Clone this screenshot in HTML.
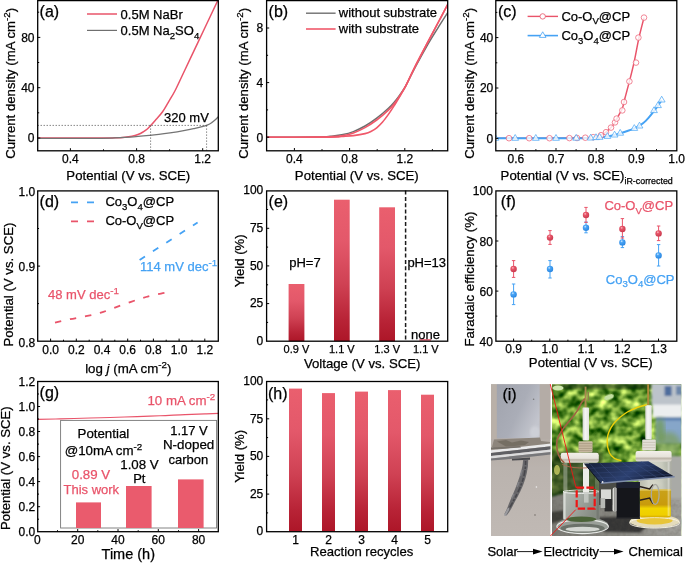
<!DOCTYPE html>
<html><head><meta charset="utf-8"><title>Figure</title>
<style>html,body{margin:0;padding:0;background:#fff}svg{display:block;will-change:transform}text{font-family:"Liberation Sans",sans-serif}</style></head>
<body>
<svg width="685" height="563" viewBox="0 0 685 563" font-family="'Liberation Sans', sans-serif">
<defs>
<linearGradient id="bar" x1="0" y1="0" x2="0" y2="1"><stop offset="0" stop-color="#ea5f6e"/><stop offset="0.3" stop-color="#e3586a"/><stop offset="0.6" stop-color="#cf4153"/><stop offset="0.85" stop-color="#b82336"/><stop offset="1" stop-color="#ad1628"/></linearGradient>
<radialGradient id="sr" cx="0.38" cy="0.32" r="0.7"><stop offset="0" stop-color="#fbc4cb"/><stop offset="0.3" stop-color="#e8566a"/><stop offset="1" stop-color="#c8394d"/></radialGradient>
<radialGradient id="sb" cx="0.38" cy="0.32" r="0.7"><stop offset="0" stop-color="#d2eaff"/><stop offset="0.3" stop-color="#4aa5f6"/><stop offset="1" stop-color="#2a86e0"/></radialGradient>
<clipPath id="ca"><rect x="37.5" y="0" width="181" height="151"/></clipPath>
<clipPath id="cc"><rect x="495.8" y="0" width="181" height="151"/></clipPath>
<clipPath id="cb"><rect x="266.6" y="0" width="181.4" height="151"/></clipPath>
</defs>
<rect width="685" height="563" fill="#fff"/>
<g clip-path="url(#ca)">
<path d="M37.5 138.0 C47.9 138.0 87.1 138.0 100.0 138.0 C112.9 138.0 110.8 137.9 115.0 137.8 C119.2 137.7 122.2 137.5 125.0 137.2 C127.8 136.9 129.8 136.6 132.0 136.2 C134.2 135.8 136.2 135.2 138.0 134.5 C139.8 133.8 141.5 132.9 143.0 132.0 C144.5 131.1 145.7 130.4 147.0 129.3 C148.3 128.2 149.1 127.2 150.6 125.6 C152.1 124.0 154.0 121.8 156.0 119.5 C158.0 117.2 160.4 114.8 162.4 112.0 C164.4 109.2 165.8 106.5 168.0 102.8 C170.2 99.1 172.6 95.5 175.4 90.0 C178.2 84.5 181.7 76.6 185.0 69.7 C188.3 62.8 191.7 55.6 195.0 48.6 C198.3 41.6 201.1 35.8 205.0 27.5 C208.9 19.2 216.2 3.8 218.5 -1.0" fill="none" stroke="#e9546a" stroke-width="1.5"/>
<path d="M37.5 138.3 C46.2 138.3 77.9 138.3 90.0 138.3 C102.1 138.3 103.3 138.3 110.0 138.1 C116.7 137.9 123.3 137.6 130.0 137.2 C136.7 136.8 143.3 136.1 150.0 135.4 C156.7 134.7 164.2 133.7 170.0 132.9 C175.8 132.1 180.8 131.2 185.0 130.4 C189.2 129.7 192.2 129.0 195.0 128.4 C197.8 127.8 200.1 127.2 202.0 126.7 C203.9 126.2 204.9 126.0 206.6 125.3 C208.3 124.6 210.0 123.9 212.0 122.4 C214.0 121.0 217.4 117.6 218.5 116.6" fill="none" stroke="#747474" stroke-width="1.3"/>
</g>
<path d="M37.5 125.4H207M150.6 125.4V150.6M206.6 125.4V150.6" stroke="#555" stroke-width="0.7" stroke-dasharray="1.5 1.5" fill="none"/>
<rect x="37.7" y="0.6" width="180.6" height="150.2" fill="none" stroke="#000" stroke-width="1.3"/>
<path d="M70.4 150.8v-2.6M136.6 150.8v-2.6M202.7 150.8v-2.6" stroke="#000" stroke-width="1" fill="none"/>
<path d="M103.5 150.8v-1.5M169.6 150.8v-1.5" stroke="#000" stroke-width="1" fill="none"/>
<path d="M37.7 138.0h2.6M37.7 87.7h2.6M37.7 37.4h2.6" stroke="#000" stroke-width="1" fill="none"/>
<path d="M37.7 112.8h1.5M37.7 62.5h1.5M37.7 12.2h1.5" stroke="#000" stroke-width="1" fill="none"/>
<text x="70.4" y="163.1" font-size="12" text-anchor="middle" fill="#000" stroke="#000" stroke-width="0.25" >0.4</text>
<text x="136.6" y="163.1" font-size="12" text-anchor="middle" fill="#000" stroke="#000" stroke-width="0.25" >0.8</text>
<text x="202.7" y="163.1" font-size="12" text-anchor="middle" fill="#000" stroke="#000" stroke-width="0.25" >1.2</text>
<text x="34.5" y="142.3" font-size="12" text-anchor="end" fill="#000" stroke="#000" stroke-width="0.25" >0</text>
<text x="34.5" y="92.0" font-size="12" text-anchor="end" fill="#000" stroke="#000" stroke-width="0.25" >40</text>
<text x="34.5" y="41.7" font-size="12" text-anchor="end" fill="#000" stroke="#000" stroke-width="0.25" >80</text>
<text x="128.3" y="180.4" font-size="13.2" text-anchor="middle" fill="#000" stroke="#000" stroke-width="0.25" >Potential (V vs. SCE)</text>
<text transform="translate(14.5 83.3) rotate(-90)" font-size="13.2" text-anchor="middle" fill="#000" stroke="#000" stroke-width="0.25">Current density (mA cm<tspan dy="-5" font-size="9.8">-2</tspan><tspan dy="5">)</tspan></text>
<text x="39.6" y="16.6" font-size="16" text-anchor="start" fill="#000" stroke="#000" stroke-width="0.25" >(a)</text>
<path d="M87 14H117" stroke="#e9546a" stroke-width="1.5"/><path d="M87 30.4H117" stroke="#6f6f6f" stroke-width="1.2"/>
<text x="120.6" y="19.0" font-size="13" text-anchor="start" fill="#000" stroke="#000" stroke-width="0.25" >0.5M NaBr</text>
<text x="120.6" y="35.0" font-size="13" text-anchor="start" fill="#000" stroke="#000" stroke-width="0.25" >0.5M Na<tspan dy="3.8" font-size="9.6">2</tspan><tspan dy="-3.8">SO</tspan><tspan dy="3.8" font-size="9.6">4</tspan></text>
<text x="164.0" y="122.4" font-size="13" text-anchor="start" fill="#000" stroke="#000" stroke-width="0.25" >320 mV</text>
<g clip-path="url(#cb)">
<path d="M266.6 137.2 C275.5 137.2 309.4 137.2 320.0 137.0 C330.6 136.8 326.4 136.6 330.0 136.2 C333.6 135.8 337.8 135.6 341.7 134.8 C345.6 134.0 349.5 133.1 353.4 131.6 C357.3 130.1 361.1 128.2 365.0 126.0 C368.9 123.8 372.8 121.2 376.7 118.2 C380.6 115.2 385.5 110.9 388.4 108.2 C391.3 105.5 392.3 104.5 394.2 102.2 C396.1 99.9 398.1 97.4 400.0 94.6 C401.9 91.8 403.5 90.0 405.9 85.6 C408.3 81.2 411.1 75.0 414.6 68.4 C418.1 61.8 422.9 53.0 427.0 45.8 C431.1 38.6 435.9 31.1 439.5 25.4 C443.1 19.7 446.9 13.9 448.4 11.6" fill="none" stroke="#6f6f6f" stroke-width="1.5"/>
<path d="M266.6 137.2 C275.5 137.2 309.4 137.2 320.0 137.1 C330.6 137.0 326.4 136.9 330.0 136.7 C333.6 136.5 337.8 136.4 341.7 135.8 C345.6 135.2 349.5 134.3 353.4 132.9 C357.3 131.5 361.1 129.8 365.0 127.6 C368.9 125.4 372.8 122.9 376.7 120.0 C380.6 117.1 385.5 112.8 388.4 110.1 C391.3 107.4 392.3 106.1 394.2 103.7 C396.1 101.3 398.1 98.5 400.0 95.5 C401.9 92.5 403.5 90.2 405.9 85.6 C408.3 80.9 411.1 74.6 414.6 67.6 C418.1 60.6 422.9 51.6 427.0 43.7 C431.1 35.8 435.9 26.8 439.5 20.0 C443.1 13.2 446.9 5.8 448.4 3.0" fill="none" stroke="#f0586a" stroke-width="1.6"/>
<path d="M266.6 137.2 C277.2 137.2 317.5 137.2 330.0 137.1 C342.5 137.0 337.8 136.8 341.7 136.5 C345.6 136.2 349.5 136.1 353.4 135.6 C357.3 135.1 362.1 134.3 365.0 133.6 C367.9 132.9 368.9 132.5 370.9 131.5 C372.8 130.5 374.8 129.4 376.7 127.8 C378.6 126.2 380.7 124.2 382.6 122.0 C384.6 119.8 386.5 117.1 388.4 114.4 C390.3 111.7 392.3 108.6 394.2 105.6 C396.1 102.5 398.1 99.4 400.0 96.1 C401.9 92.8 403.5 90.3 405.9 85.6 C408.3 80.8 411.1 74.6 414.6 67.6 C418.1 60.6 422.9 51.6 427.0 43.7 C431.1 35.8 435.9 26.8 439.5 20.0 C443.1 13.2 446.9 5.8 448.4 3.0" fill="none" stroke="#f0586a" stroke-width="1.6"/>
</g>
<rect x="266.6" y="0.6" width="181.1" height="150.2" fill="none" stroke="#000" stroke-width="1.3"/>
<path d="M294.4 150.6v-2.6M349.6 150.6v-2.6M404.8 150.6v-2.6" stroke="#000" stroke-width="1" fill="none"/>
<path d="M322.0 150.6v-1.5M377.2 150.6v-1.5M432.4 150.6v-1.5" stroke="#000" stroke-width="1" fill="none"/>
<path d="M266.6 137.2h2.6M266.6 82.6h2.6M266.6 28.0h2.6" stroke="#000" stroke-width="1" fill="none"/>
<path d="M266.6 109.9h1.5M266.6 55.3h1.5" stroke="#000" stroke-width="1" fill="none"/>
<text x="294.4" y="163.1" font-size="12" text-anchor="middle" fill="#000" stroke="#000" stroke-width="0.25" >0.4</text>
<text x="349.6" y="163.1" font-size="12" text-anchor="middle" fill="#000" stroke="#000" stroke-width="0.25" >0.8</text>
<text x="404.8" y="163.1" font-size="12" text-anchor="middle" fill="#000" stroke="#000" stroke-width="0.25" >1.2</text>
<text x="263.3" y="141.5" font-size="12" text-anchor="end" fill="#000" stroke="#000" stroke-width="0.25" >0</text>
<text x="263.3" y="86.9" font-size="12" text-anchor="end" fill="#000" stroke="#000" stroke-width="0.25" >4</text>
<text x="263.3" y="32.3" font-size="12" text-anchor="end" fill="#000" stroke="#000" stroke-width="0.25" >8</text>
<text x="356.8" y="180.4" font-size="13.2" text-anchor="middle" fill="#000" stroke="#000" stroke-width="0.25" >Potential (V vs. SCE)</text>
<text transform="translate(248.4 83.3) rotate(-90)" font-size="13.2" text-anchor="middle" fill="#000" stroke="#000" stroke-width="0.25">Current density (mA cm<tspan dy="-5" font-size="9.8">-2</tspan><tspan dy="5">)</tspan></text>
<text x="268.6" y="16.6" font-size="16" text-anchor="start" fill="#000" stroke="#000" stroke-width="0.25" >(b)</text>
<path d="M306 13.2H335.6" stroke="#6f6f6f" stroke-width="1.4"/><path d="M306 29H335.6" stroke="#f0586a" stroke-width="1.6"/>
<text x="338.8" y="17.4" font-size="13" text-anchor="start" fill="#000" stroke="#000" stroke-width="0.25" >without substrate</text>
<text x="338.8" y="33.2" font-size="13" text-anchor="start" fill="#000" stroke="#000" stroke-width="0.25" >with substrate</text>
<g clip-path="url(#cc)">
<path d="M496.0 138.2 C508.3 138.2 555.2 138.2 570.0 138.1 C584.8 138.0 581.2 137.8 585.0 137.7 C588.8 137.5 590.8 137.4 593.0 137.2 C595.2 136.9 596.7 136.5 598.0 136.2 C599.3 135.9 599.7 135.9 601.0 135.2 C602.3 134.5 604.3 133.5 606.0 132.2 C607.7 130.9 609.5 129.2 611.0 127.6 C612.5 126.0 613.8 124.2 615.0 122.4 C616.2 120.6 616.8 118.9 618.0 116.6 C619.2 114.3 621.1 111.5 622.3 108.4 C623.5 105.3 623.8 102.5 625.0 98.0 C626.2 93.5 627.9 87.3 629.4 81.4 C630.9 75.5 632.4 69.9 634.0 62.6 C635.6 55.3 637.3 45.1 639.0 37.6 C640.7 30.1 643.2 20.9 644.0 17.6" fill="none" stroke="#e9546a" stroke-width="1.5"/>
<path d="M496.0 138.3 C506.7 138.3 544.3 138.4 560.0 138.3 C575.7 138.2 583.3 138.2 590.0 138.0 C596.7 137.8 596.7 137.6 600.0 137.3 C603.3 137.0 606.7 136.7 610.0 136.0 C613.3 135.3 617.0 134.3 620.0 133.4 C623.0 132.5 625.6 131.6 628.0 130.8 C630.4 130.0 632.3 129.3 634.3 128.4 C636.3 127.5 638.0 126.7 640.0 125.4 C642.0 124.1 644.0 122.6 646.0 120.6 C648.0 118.6 650.0 116.1 652.0 113.6 C654.0 111.1 656.4 107.9 658.0 105.6 C659.6 103.3 661.1 100.9 661.7 100.0" fill="none" stroke="#45a2f4" stroke-width="2"/>
<circle cx="509.0" cy="138.2" r="2.8" fill="#fff" fill-opacity="0.8" stroke="#ec6075" stroke-width="0.75"/>
<circle cx="529.2" cy="138.2" r="2.8" fill="#fff" fill-opacity="0.8" stroke="#ec6075" stroke-width="0.75"/>
<circle cx="549.5" cy="138.2" r="2.8" fill="#fff" fill-opacity="0.8" stroke="#ec6075" stroke-width="0.75"/>
<circle cx="569.4" cy="138.1" r="2.8" fill="#fff" fill-opacity="0.8" stroke="#ec6075" stroke-width="0.75"/>
<circle cx="577.0" cy="138.0" r="2.8" fill="#fff" fill-opacity="0.8" stroke="#ec6075" stroke-width="0.75"/>
<circle cx="585.3" cy="137.7" r="2.8" fill="#fff" fill-opacity="0.8" stroke="#ec6075" stroke-width="0.75"/>
<circle cx="593.2" cy="137.2" r="2.8" fill="#fff" fill-opacity="0.8" stroke="#ec6075" stroke-width="0.75"/>
<circle cx="601.0" cy="135.2" r="2.8" fill="#fff" fill-opacity="0.8" stroke="#ec6075" stroke-width="0.75"/>
<circle cx="606.0" cy="132.2" r="2.8" fill="#fff" fill-opacity="0.8" stroke="#ec6075" stroke-width="0.75"/>
<circle cx="611.0" cy="127.6" r="2.8" fill="#fff" fill-opacity="0.8" stroke="#ec6075" stroke-width="0.75"/>
<circle cx="615.0" cy="122.4" r="2.8" fill="#fff" fill-opacity="0.8" stroke="#ec6075" stroke-width="0.75"/>
<circle cx="616.6" cy="118.6" r="2.8" fill="#fff" fill-opacity="0.8" stroke="#ec6075" stroke-width="0.75"/>
<circle cx="622.3" cy="110.4" r="2.8" fill="#fff" fill-opacity="0.8" stroke="#ec6075" stroke-width="0.75"/>
<circle cx="624.0" cy="102.0" r="2.8" fill="#fff" fill-opacity="0.8" stroke="#ec6075" stroke-width="0.75"/>
<circle cx="629.4" cy="81.4" r="2.8" fill="#fff" fill-opacity="0.8" stroke="#ec6075" stroke-width="0.75"/>
<circle cx="636.0" cy="62.6" r="2.8" fill="#fff" fill-opacity="0.8" stroke="#ec6075" stroke-width="0.75"/>
<circle cx="638.4" cy="37.6" r="2.8" fill="#fff" fill-opacity="0.8" stroke="#ec6075" stroke-width="0.75"/>
<circle cx="644.0" cy="17.6" r="2.8" fill="#fff" fill-opacity="0.8" stroke="#ec6075" stroke-width="0.75"/>
<path d="M495.4 134.5l3.4 5.8h-6.8z" fill="#fff" fill-opacity="0.8" stroke="#4fa8f6" stroke-width="0.75"/>
<path d="M515.2 134.5l3.4 5.8h-6.8z" fill="#fff" fill-opacity="0.8" stroke="#4fa8f6" stroke-width="0.75"/>
<path d="M535.8 134.5l3.4 5.8h-6.8z" fill="#fff" fill-opacity="0.8" stroke="#4fa8f6" stroke-width="0.75"/>
<path d="M556.0 134.5l3.4 5.8h-6.8z" fill="#fff" fill-opacity="0.8" stroke="#4fa8f6" stroke-width="0.75"/>
<path d="M576.2 134.4l3.4 5.8h-6.8z" fill="#fff" fill-opacity="0.8" stroke="#4fa8f6" stroke-width="0.75"/>
<path d="M590.7 134.2l3.4 5.8h-6.8z" fill="#fff" fill-opacity="0.8" stroke="#4fa8f6" stroke-width="0.75"/>
<path d="M596.0 133.8l3.4 5.8h-6.8z" fill="#fff" fill-opacity="0.8" stroke="#4fa8f6" stroke-width="0.75"/>
<path d="M599.6 133.5l3.4 5.8h-6.8z" fill="#fff" fill-opacity="0.8" stroke="#4fa8f6" stroke-width="0.75"/>
<path d="M607.4 132.6l3.4 5.8h-6.8z" fill="#fff" fill-opacity="0.8" stroke="#4fa8f6" stroke-width="0.75"/>
<path d="M614.6 131.2l3.4 5.8h-6.8z" fill="#fff" fill-opacity="0.8" stroke="#4fa8f6" stroke-width="0.75"/>
<path d="M620.2 129.4l3.4 5.8h-6.8z" fill="#fff" fill-opacity="0.8" stroke="#4fa8f6" stroke-width="0.75"/>
<path d="M634.3 124.6l3.4 5.8h-6.8z" fill="#fff" fill-opacity="0.8" stroke="#4fa8f6" stroke-width="0.75"/>
<path d="M639.5 122.2l3.4 5.8h-6.8z" fill="#fff" fill-opacity="0.8" stroke="#4fa8f6" stroke-width="0.75"/>
<path d="M654.0 106.8l3.4 5.8h-6.8z" fill="#fff" fill-opacity="0.8" stroke="#4fa8f6" stroke-width="0.75"/>
<path d="M658.0 101.8l3.4 5.8h-6.8z" fill="#fff" fill-opacity="0.8" stroke="#4fa8f6" stroke-width="0.75"/>
<path d="M661.7 96.2l3.4 5.8h-6.8z" fill="#fff" fill-opacity="0.8" stroke="#4fa8f6" stroke-width="0.75"/>
</g>
<rect x="495.8" y="0.6" width="181.0" height="150.2" fill="none" stroke="#000" stroke-width="1.3"/>
<path d="M515.8 150.6v-2.6M556.0 150.6v-2.6M596.2 150.6v-2.6M636.4 150.6v-2.6" stroke="#000" stroke-width="1" fill="none"/>
<path d="M535.9 150.6v-1.5M576.1 150.6v-1.5M616.3 150.6v-1.5M656.5 150.6v-1.5" stroke="#000" stroke-width="1" fill="none"/>
<path d="M495.8 138.4h2.6M495.8 88.0h2.6M495.8 37.6h2.6" stroke="#000" stroke-width="1" fill="none"/>
<path d="M495.8 113.2h1.5M495.8 62.8h1.5M495.8 12.4h1.5" stroke="#000" stroke-width="1" fill="none"/>
<text x="515.8" y="163.1" font-size="12" text-anchor="middle" fill="#000" stroke="#000" stroke-width="0.25" >0.6</text>
<text x="556.0" y="163.1" font-size="12" text-anchor="middle" fill="#000" stroke="#000" stroke-width="0.25" >0.7</text>
<text x="596.2" y="163.1" font-size="12" text-anchor="middle" fill="#000" stroke="#000" stroke-width="0.25" >0.8</text>
<text x="636.4" y="163.1" font-size="12" text-anchor="middle" fill="#000" stroke="#000" stroke-width="0.25" >0.9</text>
<text x="676.6" y="163.1" font-size="12" text-anchor="middle" fill="#000" stroke="#000" stroke-width="0.25" >1.0</text>
<text x="493.3" y="142.7" font-size="12" text-anchor="end" fill="#000" stroke="#000" stroke-width="0.25" >0</text>
<text x="493.3" y="92.3" font-size="12" text-anchor="end" fill="#000" stroke="#000" stroke-width="0.25" >20</text>
<text x="493.3" y="41.9" font-size="12" text-anchor="end" fill="#000" stroke="#000" stroke-width="0.25" >40</text>
<text x="500.6" y="180.4" font-size="13.2" text-anchor="start" fill="#000" stroke="#000" stroke-width="0.25" >Potential (V vs. SCE)<tspan dy="3.4" font-size="8.9">iR-corrected</tspan></text>
<text transform="translate(473.8 83.3) rotate(-90)" font-size="13.2" text-anchor="middle" fill="#000" stroke="#000" stroke-width="0.25">Current density (mA cm<tspan dy="-5" font-size="9.8">-2</tspan><tspan dy="5">)</tspan></text>
<text x="498.0" y="16.6" font-size="16" text-anchor="start" fill="#000" stroke="#000" stroke-width="0.25" >(c)</text>
<path d="M527.6 16.4H558" stroke="#e9546a" stroke-width="1.4"/><circle cx="542.7" cy="16.4" r="2.7" fill="#fff" stroke="#e9546a" stroke-width="0.8"/>
<path d="M527.6 35.6H558" stroke="#45a2f4" stroke-width="1.6"/><path d="M542.7 31.8l3.3 5.6h-6.6z" fill="#fff" stroke="#45a2f4" stroke-width="0.8"/>
<text x="561.4" y="20.6" font-size="13" text-anchor="start" fill="#000" stroke="#000" stroke-width="0.25" >Co-O<tspan dy="3.8" font-size="9.6">V</tspan><tspan dy="-3.8">@CP</tspan></text>
<text x="561.4" y="40.0" font-size="13" text-anchor="start" fill="#000" stroke="#000" stroke-width="0.25" >Co<tspan dy="3.8" font-size="9.6">3</tspan><tspan dy="-3.8">O</tspan><tspan dy="3.8" font-size="9.6">4</tspan><tspan dy="-3.8">@CP</tspan></text>
<rect x="37.7" y="190.9" width="180.6" height="150.3" fill="none" stroke="#000" stroke-width="1.3"/>
<path d="M50.6 341.2v-2.6M76.3 341.2v-2.6M102.0 341.2v-2.6M127.7 341.2v-2.6M153.4 341.2v-2.6M179.1 341.2v-2.6M204.8 341.2v-2.6" stroke="#000" stroke-width="1" fill="none"/>
<path d="M63.5 341.2v-1.5M89.2 341.2v-1.5M114.8 341.2v-1.5M140.5 341.2v-1.5M166.2 341.2v-1.5M192.0 341.2v-1.5" stroke="#000" stroke-width="1" fill="none"/>
<path d="M37.5 266.1h2.6" stroke="#000" stroke-width="1" fill="none"/>
<path d="M37.5 303.6h1.5M37.5 228.5h1.5" stroke="#000" stroke-width="1" fill="none"/>
<text x="50.6" y="353.6" font-size="12" text-anchor="middle" fill="#000" stroke="#000" stroke-width="0.25" >0.0</text>
<text x="76.3" y="353.6" font-size="12" text-anchor="middle" fill="#000" stroke="#000" stroke-width="0.25" >0.2</text>
<text x="102.0" y="353.6" font-size="12" text-anchor="middle" fill="#000" stroke="#000" stroke-width="0.25" >0.4</text>
<text x="127.7" y="353.6" font-size="12" text-anchor="middle" fill="#000" stroke="#000" stroke-width="0.25" >0.6</text>
<text x="153.4" y="353.6" font-size="12" text-anchor="middle" fill="#000" stroke="#000" stroke-width="0.25" >0.8</text>
<text x="179.1" y="353.6" font-size="12" text-anchor="middle" fill="#000" stroke="#000" stroke-width="0.25" >1.0</text>
<text x="204.8" y="353.6" font-size="12" text-anchor="middle" fill="#000" stroke="#000" stroke-width="0.25" >1.2</text>
<text x="35.2" y="346.5" font-size="12" text-anchor="end" fill="#000" stroke="#000" stroke-width="0.25" >0.8</text>
<text x="35.2" y="271.4" font-size="12" text-anchor="end" fill="#000" stroke="#000" stroke-width="0.25" >0.9</text>
<text x="35.2" y="196.2" font-size="12" text-anchor="end" fill="#000" stroke="#000" stroke-width="0.25" >1.0</text>
<text x="128.3" y="373.0" font-size="13.3" text-anchor="middle" fill="#000" stroke="#000" stroke-width="0.25" >log <tspan font-style="italic">j</tspan> (mA cm<tspan dy="-5" font-size="9.8">-2</tspan><tspan dy="5">)</tspan></text>
<text transform="translate(12.9 284.6) rotate(-90)" font-size="13.2" text-anchor="middle" fill="#000" stroke="#000" stroke-width="0.25">Potential (V vs. SCE)</text>
<text x="39.6" y="206.6" font-size="16" text-anchor="start" fill="#000" stroke="#000" stroke-width="0.25" >(d)</text>
<path d="M71 202.4H94" stroke="#45a2f4" stroke-width="1.7" stroke-dasharray="7 9"/>
<path d="M71 221.4H94" stroke="#e9546a" stroke-width="1.7" stroke-dasharray="7 9"/>
<text x="105.4" y="206.0" font-size="13" text-anchor="start" fill="#000" stroke="#000" stroke-width="0.25" >Co<tspan dy="3.8" font-size="9.6">3</tspan><tspan dy="-3.8">O</tspan><tspan dy="3.8" font-size="9.6">4</tspan><tspan dy="-3.8">@CP</tspan></text>
<text x="105.4" y="225.0" font-size="13" text-anchor="start" fill="#000" stroke="#000" stroke-width="0.25" >Co-O<tspan dy="3.8" font-size="9.6">V</tspan><tspan dy="-3.8">@CP</tspan></text>
<path d="M139.6 260L197.6 222.4" stroke="#45a2f4" stroke-width="1.8" stroke-dasharray="6.4 9.5" fill="none"/>
<path d="M55.0 322.6 C57.5 322.0 64.8 320.3 70.0 319.2 C75.2 318.1 80.8 317.3 86.0 316.2 C91.2 315.1 96.2 314.0 101.0 312.6 C105.8 311.2 110.0 309.4 115.0 307.6 C120.0 305.8 125.8 303.6 131.0 301.8 C136.2 300.0 141.0 298.4 146.0 297.0 C151.0 295.6 157.6 294.3 161.0 293.6 C164.4 292.9 165.7 292.8 166.6 292.6" stroke="#e9546a" stroke-width="1.8" stroke-dasharray="6.4 8.9" fill="none"/>
<text x="140.0" y="271.0" font-size="13" text-anchor="start" fill="#45a2f4" stroke="#45a2f4" stroke-width="0.25" >114 mV dec<tspan dy="-5" font-size="9.8">-1</tspan></text>
<text x="48.0" y="299.4" font-size="13" text-anchor="start" fill="#e9546a" stroke="#e9546a" stroke-width="0.25" >48 mV dec<tspan dy="-5" font-size="9.8">-1</tspan></text>
<rect x="288.6" y="284.0" width="15.8" height="57.2" fill="url(#bar)"/>
<rect x="334.0" y="199.7" width="15.7" height="141.5" fill="url(#bar)"/>
<rect x="379.2" y="207.3" width="15.8" height="133.9" fill="url(#bar)"/>
<rect x="419.4" y="339.2" width="11.6" height="1.5" fill="#e9546a"/>
<path d="M405.6 190.6V341.2" stroke="#1a1a1a" stroke-width="1.5" stroke-dasharray="4 2.3"/>
<rect x="266.6" y="190.9" width="181.1" height="150.3" fill="none" stroke="#000" stroke-width="1.3"/>
<path d="M266.6 303.6h2.6M266.6 265.9h2.6M266.6 228.3h2.6" stroke="#000" stroke-width="1" fill="none"/>
<path d="M266.6 322.4h1.5M266.6 284.8h1.5M266.6 247.1h1.5M266.6 209.5h1.5" stroke="#000" stroke-width="1" fill="none"/>
<text x="263.3" y="344.9" font-size="12" text-anchor="end" fill="#000" stroke="#000" stroke-width="0.25" >0</text>
<text x="263.3" y="307.3" font-size="12" text-anchor="end" fill="#000" stroke="#000" stroke-width="0.25" >25</text>
<text x="263.3" y="269.6" font-size="12" text-anchor="end" fill="#000" stroke="#000" stroke-width="0.25" >50</text>
<text x="263.3" y="232.0" font-size="12" text-anchor="end" fill="#000" stroke="#000" stroke-width="0.25" >75</text>
<text x="263.3" y="194.4" font-size="12" text-anchor="end" fill="#000" stroke="#000" stroke-width="0.25" >100</text>
<text x="296.4" y="352.6" font-size="11" text-anchor="middle" fill="#000" stroke="#000" stroke-width="0.25" >0.9 V</text>
<text x="341.8" y="352.6" font-size="11" text-anchor="middle" fill="#000" stroke="#000" stroke-width="0.25" >1.1 V</text>
<text x="387.2" y="352.6" font-size="11" text-anchor="middle" fill="#000" stroke="#000" stroke-width="0.25" >1.3 V</text>
<text x="425.8" y="352.6" font-size="11" text-anchor="middle" fill="#000" stroke="#000" stroke-width="0.25" >1.1 V</text>
<text x="362.2" y="368.0" font-size="13.2" text-anchor="middle" fill="#000" stroke="#000" stroke-width="0.25" >Voltage (V vs. SCE)</text>
<text transform="translate(243.8 260.8) rotate(-90)" font-size="13.2" text-anchor="middle" fill="#000" stroke="#000" stroke-width="0.25">Yield (%)</text>
<text x="268.6" y="206.6" font-size="16" text-anchor="start" fill="#000" stroke="#000" stroke-width="0.25" >(e)</text>
<text x="289.2" y="267.4" font-size="13" text-anchor="start" fill="#000" stroke="#000" stroke-width="0.25" >pH=7</text>
<text x="407.4" y="267.4" font-size="13" text-anchor="start" fill="#000" stroke="#000" stroke-width="0.25" >pH=13</text>
<text x="411.0" y="338.6" font-size="13" text-anchor="start" fill="#000" stroke="#000" stroke-width="0.25" >none</text>
<rect x="495.9" y="190.9" width="180.9" height="150.3" fill="none" stroke="#000" stroke-width="1.3"/>
<path d="M513.6 341.2v-2.6M549.8 341.2v-2.6M586.0 341.2v-2.6M622.3 341.2v-2.6M658.5 341.2v-2.6" stroke="#000" stroke-width="1" fill="none"/>
<path d="M531.7 341.2v-1.5M567.9 341.2v-1.5M604.1 341.2v-1.5M640.4 341.2v-1.5" stroke="#000" stroke-width="1" fill="none"/>
<path d="M495.8 291.1h2.6M495.8 241.0h2.6" stroke="#000" stroke-width="1" fill="none"/>
<path d="M495.8 316.1h1.5M495.8 266.1h1.5M495.8 215.9h1.5" stroke="#000" stroke-width="1" fill="none"/>
<text x="513.6" y="353.0" font-size="12" text-anchor="middle" fill="#000" stroke="#000" stroke-width="0.25" >0.9</text>
<text x="549.8" y="353.0" font-size="12" text-anchor="middle" fill="#000" stroke="#000" stroke-width="0.25" >1.0</text>
<text x="586.0" y="353.0" font-size="12" text-anchor="middle" fill="#000" stroke="#000" stroke-width="0.25" >1.1</text>
<text x="622.3" y="353.0" font-size="12" text-anchor="middle" fill="#000" stroke="#000" stroke-width="0.25" >1.2</text>
<text x="658.5" y="353.0" font-size="12" text-anchor="middle" fill="#000" stroke="#000" stroke-width="0.25" >1.3</text>
<text x="492.9" y="345.7" font-size="12" text-anchor="end" fill="#000" stroke="#000" stroke-width="0.25" >40</text>
<text x="492.9" y="295.6" font-size="12" text-anchor="end" fill="#000" stroke="#000" stroke-width="0.25" >60</text>
<text x="492.9" y="245.5" font-size="12" text-anchor="end" fill="#000" stroke="#000" stroke-width="0.25" >80</text>
<text x="492.9" y="195.4" font-size="12" text-anchor="end" fill="#000" stroke="#000" stroke-width="0.25" >100</text>
<text x="590.8" y="367.4" font-size="13.2" text-anchor="middle" fill="#000" stroke="#000" stroke-width="0.25" >Potential (V vs. SCE)</text>
<text transform="translate(474.3 346.6) rotate(-90)" font-size="13.3" text-anchor="start" fill="#000" stroke="#000" stroke-width="0.25">Faradaic efficiency (%)</text>
<text x="500.8" y="206.6" font-size="16" text-anchor="start" fill="#000" stroke="#000" stroke-width="0.25" >(f)</text>
<text x="604.4" y="210.2" font-size="13" text-anchor="start" fill="#e9546a" stroke="#e9546a" stroke-width="0.25" >Co-O<tspan dy="3.8" font-size="9.6">V</tspan><tspan dy="-3.8">@CP</tspan></text>
<text x="605.8" y="283.6" font-size="13" text-anchor="start" fill="#45a2f4" stroke="#45a2f4" stroke-width="0.25" >Co<tspan dy="3.8" font-size="9.6">3</tspan><tspan dy="-3.8">O</tspan><tspan dy="3.8" font-size="9.6">4</tspan><tspan dy="-3.8">@CP</tspan></text>
<path d="M513.6 284.0V304.6M511.9 284.0h3.4M511.9 304.6h3.4" stroke="#45a2f4" stroke-width="1" fill="none"/>
<circle cx="513.6" cy="294.4" r="3.2" fill="url(#sb)"/>
<path d="M550.0 260.6V278.0M548.3 260.6h3.4M548.3 278.0h3.4" stroke="#45a2f4" stroke-width="1" fill="none"/>
<circle cx="550.0" cy="269.0" r="3.2" fill="url(#sb)"/>
<path d="M586.0 222.0V232.8M584.3 222.0h3.4M584.3 232.8h3.4" stroke="#45a2f4" stroke-width="1" fill="none"/>
<circle cx="586.0" cy="227.8" r="3.2" fill="url(#sb)"/>
<path d="M622.4 236.6V247.6M620.7 236.6h3.4M620.7 247.6h3.4" stroke="#45a2f4" stroke-width="1" fill="none"/>
<circle cx="622.4" cy="242.4" r="3.2" fill="url(#sb)"/>
<path d="M658.6 244.6V266.0M656.9 244.6h3.4M656.9 266.0h3.4" stroke="#45a2f4" stroke-width="1" fill="none"/>
<circle cx="658.6" cy="255.4" r="3.2" fill="url(#sb)"/>
<path d="M513.6 260.6V277.4M511.9 260.6h3.4M511.9 277.4h3.4" stroke="#e9546a" stroke-width="1" fill="none"/>
<circle cx="513.6" cy="269.0" r="3.2" fill="url(#sr)"/>
<path d="M550.0 230.6V244.4M548.3 230.6h3.4M548.3 244.4h3.4" stroke="#e9546a" stroke-width="1" fill="none"/>
<circle cx="550.0" cy="237.6" r="3.2" fill="url(#sr)"/>
<path d="M586.0 207.4V222.4M584.3 207.4h3.4M584.3 222.4h3.4" stroke="#e9546a" stroke-width="1" fill="none"/>
<circle cx="586.0" cy="215.0" r="3.2" fill="url(#sr)"/>
<path d="M622.4 218.6V238.0M620.7 218.6h3.4M620.7 238.0h3.4" stroke="#e9546a" stroke-width="1" fill="none"/>
<circle cx="622.4" cy="229.0" r="3.2" fill="url(#sr)"/>
<path d="M658.6 226.0V240.6M656.9 226.0h3.4M656.9 240.6h3.4" stroke="#e9546a" stroke-width="1" fill="none"/>
<circle cx="658.6" cy="233.4" r="3.2" fill="url(#sr)"/>
<path d="M37.5 419.4 C41.2 419.3 51.2 419.1 60.0 418.9 C68.8 418.7 81.7 418.2 90.0 418.0 C98.3 417.8 102.2 417.7 110.0 417.5 C117.8 417.3 128.7 416.9 137.0 416.6 C145.3 416.3 152.0 416.1 160.0 415.8 C168.0 415.5 177.5 414.9 185.0 414.6 C192.5 414.3 199.3 414.1 205.0 413.9 C210.7 413.7 216.7 413.5 219.0 413.4" stroke="#e9546a" stroke-width="1.1" fill="none"/>
<rect x="60.6" y="420.4" width="156" height="107.6" fill="#fff" stroke="#777" stroke-width="0.9"/>
<rect x="76.0" y="502.4" width="25.0" height="25.6" fill="#ea5b6d"/>
<rect x="126.0" y="486.0" width="25.6" height="42.0" fill="#ea5b6d"/>
<rect x="178.0" y="479.4" width="25.6" height="48.6" fill="#ea5b6d"/>
<rect x="37.7" y="381.5" width="180.6" height="150.2" fill="none" stroke="#000" stroke-width="1.3"/>
<path d="M77.7 531.7v-2.6M118.0 531.7v-2.6M158.3 531.7v-2.6M198.6 531.7v-2.6" stroke="#000" stroke-width="1" fill="none"/>
<path d="M57.5 531.7v-1.5M97.8 531.7v-1.5M138.2 531.7v-1.5M178.5 531.7v-1.5" stroke="#000" stroke-width="1" fill="none"/>
<path d="M37.5 506.7h2.6M37.5 481.6h2.6M37.5 456.6h2.6M37.5 431.5h2.6M37.5 406.5h2.6" stroke="#000" stroke-width="1" fill="none"/>
<path d="M37.5 519.2h1.5M37.5 494.1h1.5M37.5 469.1h1.5M37.5 444.1h1.5M37.5 419.0h1.5M37.5 394.0h1.5" stroke="#000" stroke-width="1" fill="none"/>
<text x="37.4" y="544.0" font-size="12" text-anchor="middle" fill="#000" stroke="#000" stroke-width="0.25" >0</text>
<text x="77.7" y="544.0" font-size="12" text-anchor="middle" fill="#000" stroke="#000" stroke-width="0.25" >20</text>
<text x="118.0" y="544.0" font-size="12" text-anchor="middle" fill="#000" stroke="#000" stroke-width="0.25" >40</text>
<text x="158.3" y="544.0" font-size="12" text-anchor="middle" fill="#000" stroke="#000" stroke-width="0.25" >60</text>
<text x="198.6" y="544.0" font-size="12" text-anchor="middle" fill="#000" stroke="#000" stroke-width="0.25" >80</text>
<text x="35.2" y="536.0" font-size="12" text-anchor="end" fill="#000" stroke="#000" stroke-width="0.25" >0.0</text>
<text x="35.2" y="511.0" font-size="12" text-anchor="end" fill="#000" stroke="#000" stroke-width="0.25" >0.2</text>
<text x="35.2" y="485.9" font-size="12" text-anchor="end" fill="#000" stroke="#000" stroke-width="0.25" >0.4</text>
<text x="35.2" y="460.9" font-size="12" text-anchor="end" fill="#000" stroke="#000" stroke-width="0.25" >0.6</text>
<text x="35.2" y="435.8" font-size="12" text-anchor="end" fill="#000" stroke="#000" stroke-width="0.25" >0.8</text>
<text x="35.2" y="410.8" font-size="12" text-anchor="end" fill="#000" stroke="#000" stroke-width="0.25" >1.0</text>
<text x="35.2" y="385.8" font-size="12" text-anchor="end" fill="#000" stroke="#000" stroke-width="0.25" >1.2</text>
<text x="128.3" y="559.3" font-size="14.5" text-anchor="middle" fill="#000" stroke="#000" stroke-width="0.25" >Time (h)</text>
<text transform="translate(9.9 468.2) rotate(-90)" font-size="13.2" text-anchor="middle" fill="#000" stroke="#000" stroke-width="0.25">Potential (V vs. SCE)</text>
<text x="39.6" y="398.0" font-size="16" text-anchor="start" fill="#000" stroke="#000" stroke-width="0.25" >(g)</text>
<text x="147.4" y="405.0" font-size="13.3" text-anchor="start" fill="#e9546a" stroke="#e9546a" stroke-width="0.25" >10 mA cm<tspan dy="-5" font-size="9.8">-2</tspan></text>
<text x="103.4" y="437.6" font-size="13.3" text-anchor="middle" fill="#000" stroke="#000" stroke-width="0.25" >Potential</text>
<text x="103.5" y="455.0" font-size="13.3" text-anchor="middle" fill="#000" stroke="#000" stroke-width="0.25" >@10mA cm<tspan dy="-5" font-size="9.8">-2</tspan></text>
<text x="91.0" y="478.5" font-size="13.3" text-anchor="middle" fill="#e9546a" stroke="#e9546a" stroke-width="0.25" >0.89 V</text>
<text x="91.3" y="493.5" font-size="13" text-anchor="middle" fill="#e9546a" stroke="#e9546a" stroke-width="0.25" >This work</text>
<text x="139.5" y="469.4" font-size="13.3" text-anchor="middle" fill="#000" stroke="#000" stroke-width="0.25" >1.08 V</text>
<text x="139.3" y="483.4" font-size="13" text-anchor="middle" fill="#000" stroke="#000" stroke-width="0.25" >Pt</text>
<text x="189.0" y="434.6" font-size="13" text-anchor="middle" fill="#000" stroke="#000" stroke-width="0.25" >1.17 V</text>
<text x="188.6" y="449.0" font-size="13.4" text-anchor="middle" fill="#000" stroke="#000" stroke-width="0.25" >N-doped</text>
<text x="188.4" y="463.6" font-size="13" text-anchor="middle" fill="#000" stroke="#000" stroke-width="0.25" >carbon</text>
<rect x="289.0" y="388.6" width="13" height="142.8" fill="url(#bar)"/>
<rect x="322.0" y="393.1" width="13" height="138.3" fill="url(#bar)"/>
<rect x="355.0" y="391.6" width="13" height="139.8" fill="url(#bar)"/>
<rect x="388.0" y="390.1" width="13" height="141.3" fill="url(#bar)"/>
<rect x="421.0" y="394.7" width="13" height="136.7" fill="url(#bar)"/>
<rect x="266.6" y="381.5" width="181.1" height="150.2" fill="none" stroke="#000" stroke-width="1.3"/>
<path d="M266.6 494.1h2.6M266.6 456.4h2.6M266.6 418.8h2.6" stroke="#000" stroke-width="1" fill="none"/>
<path d="M266.6 512.9h1.5M266.6 475.2h1.5M266.6 437.6h1.5M266.6 399.9h1.5" stroke="#000" stroke-width="1" fill="none"/>
<text x="263.3" y="535.4" font-size="12" text-anchor="end" fill="#000" stroke="#000" stroke-width="0.25" >0</text>
<text x="263.3" y="497.8" font-size="12" text-anchor="end" fill="#000" stroke="#000" stroke-width="0.25" >25</text>
<text x="263.3" y="460.1" font-size="12" text-anchor="end" fill="#000" stroke="#000" stroke-width="0.25" >50</text>
<text x="263.3" y="422.5" font-size="12" text-anchor="end" fill="#000" stroke="#000" stroke-width="0.25" >75</text>
<text x="263.3" y="384.8" font-size="12" text-anchor="end" fill="#000" stroke="#000" stroke-width="0.25" >100</text>
<text x="295.5" y="544.0" font-size="12" text-anchor="middle" fill="#000" stroke="#000" stroke-width="0.25" >1</text>
<text x="328.5" y="544.0" font-size="12" text-anchor="middle" fill="#000" stroke="#000" stroke-width="0.25" >2</text>
<text x="361.5" y="544.0" font-size="12" text-anchor="middle" fill="#000" stroke="#000" stroke-width="0.25" >3</text>
<text x="394.5" y="544.0" font-size="12" text-anchor="middle" fill="#000" stroke="#000" stroke-width="0.25" >4</text>
<text x="427.5" y="544.0" font-size="12" text-anchor="middle" fill="#000" stroke="#000" stroke-width="0.25" >5</text>
<text x="361.7" y="556.0" font-size="13.1" text-anchor="middle" fill="#000" stroke="#000" stroke-width="0.25" >Reaction recycles</text>
<text transform="translate(243.8 456.3) rotate(-90)" font-size="13.2" text-anchor="middle" fill="#000" stroke="#000" stroke-width="0.25">Yield (%)</text>
<text x="268.0" y="399.0" font-size="16" text-anchor="start" fill="#000" stroke="#000" stroke-width="0.25" >(h)</text>
<defs>
<clipPath id="cl"><rect x="491" y="384.2" width="59.4" height="151.8"/></clipPath>
<clipPath id="cr"><rect x="552" y="384.2" width="129.2" height="151.8"/></clipPath>
<filter id="leaf" x="0" y="0" width="1" height="1" color-interpolation-filters="sRGB">
<feTurbulence type="fractalNoise" baseFrequency="0.1 0.11" numOctaves="2" seed="11"/>
<feColorMatrix type="matrix" values="1.5 0 0 0 -0.33  1.3 0 0 0 -0.04  0.9 0 0 0 -0.25  0 0 0 0 1"/>
<feGaussianBlur stdDeviation="0.5"/>
</filter>
<filter id="b1b"><feGaussianBlur stdDeviation="0.9"/></filter>
<filter id="b1"><feGaussianBlur stdDeviation="0.6"/></filter>
<filter id="b2"><feGaussianBlur stdDeviation="1.3"/></filter>
<filter id="b3"><feGaussianBlur stdDeviation="2.5"/></filter>
<filter id="grain" x="0" y="0" width="1" height="1" color-interpolation-filters="sRGB">
<feTurbulence type="fractalNoise" baseFrequency="0.25" numOctaves="2" seed="2"/>
<feColorMatrix type="matrix" values="0 0 0 0 0.35  0 0 0 0 0.33  0 0 0 0 0.3  0.9 0 0 0 -0.3"/>
</filter>
<linearGradient id="lgL" x1="0" y1="0" x2="0" y2="1"><stop offset="0" stop-color="#b3aca6"/><stop offset="0.45" stop-color="#b6aea8"/><stop offset="0.55" stop-color="#bab3ae"/><stop offset="1" stop-color="#c0b9b4"/></linearGradient>
<linearGradient id="lgBlue" x1="0" y1="0" x2="1" y2="0.6"><stop offset="0" stop-color="#a0a3ad"/><stop offset="0.6" stop-color="#aaadb7"/><stop offset="1" stop-color="#c3c5cd"/></linearGradient>
<linearGradient id="lgRod" x1="0" y1="0" x2="1" y2="0"><stop offset="0" stop-color="#d2d2ce"/><stop offset="0.4" stop-color="#f6f6f4"/><stop offset="1" stop-color="#e4e4e0"/></linearGradient>
<linearGradient id="lgCap" x1="0" y1="0" x2="0" y2="1"><stop offset="0" stop-color="#f2efe9"/><stop offset="0.55" stop-color="#e6e2da"/><stop offset="0.7" stop-color="#bdb5a8"/><stop offset="1" stop-color="#e2ded6"/></linearGradient>
<linearGradient id="lgPanel" x1="0" y1="0" x2="1" y2="0.3"><stop offset="0" stop-color="#151e36"/><stop offset="0.45" stop-color="#26375f"/><stop offset="0.6" stop-color="#2c4070"/><stop offset="1" stop-color="#141c33"/></linearGradient>
<linearGradient id="lgYel" x1="0" y1="0" x2="0" y2="1"><stop offset="0" stop-color="#c9a21a"/><stop offset="0.55" stop-color="#c99b0c"/><stop offset="0.68" stop-color="#f1d500"/><stop offset="0.92" stop-color="#f0cf00"/><stop offset="1" stop-color="#d4a800"/></linearGradient>
<linearGradient id="lgGround" x1="0" y1="0" x2="1" y2="0"><stop offset="0" stop-color="#7c7b75"/><stop offset="0.5" stop-color="#8a8983"/><stop offset="1" stop-color="#a3a29d"/></linearGradient>
<linearGradient id="lgWater" x1="0" y1="0" x2="1" y2="0.4"><stop offset="0" stop-color="#b4b9b3"/><stop offset="0.5" stop-color="#9fa59e"/><stop offset="1" stop-color="#858b82"/></linearGradient>
<linearGradient id="lgGlassR" x1="0" y1="0" x2="1" y2="0"><stop offset="0" stop-color="#b9b9ae"/><stop offset="0.3" stop-color="#d9d8d0"/><stop offset="0.7" stop-color="#cfcfc6"/><stop offset="1" stop-color="#a9aaa2"/></linearGradient>
</defs>
<!-- left photo -->
<g clip-path="url(#cl)">
<rect x="491" y="384" width="60" height="152" fill="url(#lgL)"/>
<rect x="496.6" y="383" width="43.2" height="55.4" fill="url(#lgBlue)"/>
<ellipse cx="535" cy="432" rx="5" ry="6" fill="#d2d4da" opacity="0.7" filter="url(#b2)"/>
<rect x="491" y="383" width="5.6" height="56" fill="#b9b0a8"/>
<rect x="539.8" y="383" width="11" height="56" fill="#b4aca6"/>
<g filter="url(#b1)">
<path d="M494 439.5L540 437.6L541 441L550 442L550 446L530 448.5L497 449.5L492 447z" fill="#8d857b"/>
<path d="M497 441.5l9-1.5 6 2.5 9-2 8 1.5-4 3-10 1-9 .5z" fill="#6f685f" opacity="0.8"/>
<path d="M491 450.2L551 443.6V446.2L491 453z" fill="#e9e9ea"/>
<path d="M491 453L551 446.2V449.5L491 456z" fill="#5f5f63"/>
<path d="M491 456L551 449.5V452L491 458.4z" fill="#dcdcdd"/>
<path d="M491 458.4L551 452V454.5L505 459.5L491 460.4z" fill="#77777a"/>
<path d="M512 458.8L530 457.6L530 459.8L512 460.6z" fill="#4a4a4d"/>
<path d="M491 447.4L520 446L521 447.4L491 449.6z" fill="#77716a"/>
</g>
<path d="M523.2 459.4L528.2 459.4C528.4 468 526.4 477 523 485.4C520 493 515.6 500 512.4 506.4C510.4 510.4 508.2 513.6 506.6 515.6L504.4 514C506 511 507.6 507.6 509 503.6C511.6 497 515 490 517.4 483C520.4 475 522.8 467 523.2 459.4z" fill="#5a5a5e" opacity="0.85" filter="url(#b1)"/>
<path d="M525.6 461C525.8 470 523.6 479 520 487.6C517 494.6 513 501.6 509.6 508" fill="none" stroke="#3e3e43" stroke-width="1.6" stroke-dasharray="4 1.6 2.4 1.2 6 2" filter="url(#b1)" opacity="0.75"/>
<path d="M522 470l-1.6 6M519 482l-2 5M514 494l-2.4 4.4" stroke="#85858a" stroke-width="1.6" filter="url(#b1)" opacity="0.8"/>
<path d="M508.4 509L505.2 515" stroke="#9a9a9e" stroke-width="2" stroke-linecap="round" filter="url(#b1)"/>
<circle cx="536.4" cy="487" r="0.8" fill="#eee"/><circle cx="535" cy="515" r="0.9" fill="#8e8882"/><circle cx="533.6" cy="399.2" r="0.8" fill="#777"/>
</g>
<!-- right photo -->
<g clip-path="url(#cr)">
<rect x="552" y="384" width="130" height="152" filter="url(#leaf)"/>
<rect x="552" y="383" width="130" height="6" fill="#1f3312" opacity="0.55" filter="url(#b2)"/>
<ellipse cx="558" cy="388" rx="5.5" ry="2.6" fill="#cfe6ae" filter="url(#b1)"/>
<ellipse cx="609" cy="397" rx="5" ry="2.6" fill="#c4e0a2" filter="url(#b1)" transform="rotate(-20 609 397)"/>
<!-- building -->
<g filter="url(#b1b)">
<rect x="651.5" y="383" width="31" height="22" fill="#bcc3ca"/>
<rect x="664.6" y="386" width="7" height="10" fill="#4d6c9c"/>
<rect x="676" y="386" width="6" height="9" fill="#6d87aa"/>
<rect x="652.5" y="404.6" width="30" height="13" fill="#eceeef"/>
<rect x="656" y="417.4" width="26" height="26" fill="#86a6c9"/>
<rect x="656" y="417.4" width="26" height="3" fill="#5b7fae"/>
</g>
<ellipse cx="668" cy="446" rx="13" ry="14" fill="#7d9f62" opacity="0.75" filter="url(#b3)"/>
<ellipse cx="660" cy="430" rx="5" ry="12" fill="#6f9a4a" opacity="0.7" filter="url(#b3)"/>
<path d="M550 452h52v46h-52z" fill="#1e2c14" opacity="0.62" filter="url(#b3)"/>
<ellipse cx="557" cy="470" rx="3" ry="5" fill="#c9cc62" opacity="0.8" filter="url(#b1)"/>
<!-- ground -->
<g filter="url(#b2)">
<path d="M550 497L562 494L600 500L616 503L640 504L684 488V540H550z" fill="url(#lgGround)"/>
<path d="M670 456h14v42h-14z" fill="#a9aaa6"/>
<path d="M550 512l14-2 0 10-14 4z" fill="#3c3d38"/>
<path d="M598 517L642 516L652 523L640 533L604 532z" fill="#363634"/>
</g>
<rect x="552" y="500" width="130" height="36" filter="url(#grain)" opacity="0.5"/>
<!-- right jar -->
<rect x="638.6" y="459" width="33.4" height="32" fill="url(#lgGlassR)" opacity="0.95"/>
<ellipse cx="654.6" cy="521.4" rx="25" ry="6.4" fill="#e4dcbc"/>
<ellipse cx="654.6" cy="520.4" rx="18" ry="4.2" fill="#e8c53a"/>
<ellipse cx="654.6" cy="522.8" rx="25" ry="5.2" fill="none" stroke="#f7f3e4" stroke-width="1"/>
<rect x="640" y="489.6" width="30.8" height="27.6" rx="1.5" fill="url(#lgYel)"/>
<rect x="640" y="489.2" width="30.8" height="1.6" fill="#e2c860" opacity="0.8"/>
<rect x="667.6" y="462" width="2" height="54" fill="#fff" opacity="0.35"/>
<!-- electrode 2 -->
<rect x="647.2" y="383" width="1.9" height="22" fill="#b28a3c"/>
<rect x="645.3" y="405.2" width="6.4" height="34.4" rx="1" fill="url(#lgRod)"/>
<rect x="642.2" y="439.6" width="13.6" height="11" rx="1" fill="#e2dfd7"/>
<path d="M642.2 442.4h13.6M642.2 445h13.6M642.2 447.6h13.6" stroke="#c3bcae" stroke-width="0.7"/>
<rect x="635.6" y="451" width="36" height="10.4" rx="2" fill="url(#lgCap)"/>
<!-- yellow wire -->
<path d="M646.6 404.8C638 406.5 632 409.5 627.4 412C621 416 617 419.6 614 423.3C609.6 429 607.4 434 607.2 439.7C607 445.6 608 449.6 609.5 453C612 458 616 459.8 621.4 460.8" fill="none" stroke="#efcf0a" stroke-width="1.4"/>
<!-- left jar -->
<rect x="563" y="463" width="36.6" height="29" fill="#4a5a3a" opacity="0.45"/>
<rect x="563.4" y="463" width="4" height="29" fill="#c5cbbd" opacity="0.45"/>
<rect x="595" y="463" width="4" height="29" fill="#aeb5a5" opacity="0.3"/>
<ellipse cx="582.6" cy="525.4" rx="25.8" ry="8.2" fill="#9a9f98"/>
<ellipse cx="582.6" cy="526.6" rx="25.8" ry="7" fill="none" stroke="#e9ebe8" stroke-width="1.1"/>
<ellipse cx="582.6" cy="528.2" rx="22" ry="4.4" fill="#6c726a"/>
<ellipse cx="582.6" cy="529.2" rx="17" ry="2.4" fill="#d5d8d3"/>
<rect x="563" y="491.6" width="36.6" height="28.4" rx="2" fill="url(#lgWater)"/>
<ellipse cx="581.3" cy="519.2" rx="15" ry="2.8" fill="#4c6338" filter="url(#b1)"/>
<ellipse cx="581.3" cy="491.8" rx="18.3" ry="1.7" fill="none" stroke="#eef0ee" stroke-width="0.9"/>
<rect x="563.6" y="492" width="2" height="27" fill="#e8eae6" opacity="0.7"/>
<rect x="596.6" y="492" width="2.2" height="27" fill="#6f756c" opacity="0.7"/>
<!-- electrode 1 -->
<rect x="584.6" y="386.6" width="1.9" height="21" fill="#a98a4f"/>
<rect x="587.6" y="392" width="1.3" height="9" fill="#8f7a4a"/>
<rect x="582.6" y="407.6" width="6.4" height="33" rx="1" fill="url(#lgRod)"/>
<rect x="578.6" y="441.2" width="13.9" height="11.4" rx="1" fill="#c9baa2"/>
<path d="M578.6 443.6h13.9M578.6 446h13.9M578.6 448.4h13.9M578.6 450.6h13.9" stroke="#a4947a" stroke-width="0.7"/>
<rect x="560.6" y="452.8" width="38.2" height="10" rx="2.4" fill="url(#lgCap)"/>
<rect x="583" y="463" width="6" height="29.6" fill="#ecece8"/>
<rect x="584" y="492.6" width="4.6" height="10" fill="#c9cdc8" opacity="0.8"/>
<!-- copper wire -->
<path d="M584.8 398.6C581 402 579.6 406.6 577.9 409.9C574.6 415 571 419.4 567.4 423.3C564 427.4 561 431 559.2 435.2C557.4 438.4 556.5 441 556.7 444.2C556.8 448 557.2 451.4 558.4 454.6C559.6 458 561.6 460.8 564.4 462.8" fill="none" stroke="#a06244" stroke-width="1.6"/>
<path d="M562 464C568 468.6 590 469.6 600 465" fill="none" stroke="#b06a50" stroke-width="0.9"/>
<!-- motor -->
<rect x="599" y="481" width="19" height="24" fill="#4b4c47"/>
<rect x="601" y="489.4" width="10" height="10" fill="#d9dad6"/>
<rect x="604.6" y="499" width="8" height="12.4" fill="#2b2b2c"/>
<rect x="600.6" y="498" width="4.6" height="10" fill="#b9bbb6"/>
<rect x="612.6" y="487.6" width="4.8" height="24" rx="2" fill="#dcdcd8"/>
<rect x="614.2" y="487.6" width="1.4" height="24" fill="#8c8c88"/>
<!-- stand -->
<path d="M616.6 482h23.2v36.8h-23.2z" fill="#15161b"/>
<path d="M616.6 482h23.2v6h-23.2z" fill="#1c2030"/>
<path d="M617 517.4h23v1.6h-23z" fill="#2b2b2e"/>
<!-- binder clip -->
<path d="M639.6 486.4L649.6 489L653 484.6M639.6 500.2L649.6 498L653 503.6" fill="none" stroke="#2a211c" stroke-width="1.5"/>
<ellipse cx="655.2" cy="494.4" rx="3.9" ry="10" fill="none" stroke="#a9a9a2" stroke-width="1.3"/>
<!-- solar panel -->
<path d="M584.4 463.6L648.4 461.2L674.6 476.8L600.8 483.2z" fill="url(#lgPanel)"/>
<path d="M590 463.6L606 482.6M600 463.2L619 481.6M611 462.8L633 480.4M622 462.4L646 479.2M633 462L658 478.2M641 461.6L667 477.4" stroke="#3d5182" stroke-width="0.6" opacity="0.8"/>
<path d="M588.6 468.4L655 465.2M592.6 473.2L663 470M596.6 478L670 474.4" stroke="#3d5182" stroke-width="0.5" opacity="0.7"/>
<path d="M600.8 483.2L674.6 476.8" stroke="#7f8dab" stroke-width="1.5"/>
<path d="M584.4 463.6L600.8 483.2" stroke="#0e1320" stroke-width="1"/>
<circle cx="602.6" cy="482" r="0.9" fill="#e8e8e8"/>
<!-- red annotations -->
<rect x="576.7" y="487.7" width="18" height="20.9" fill="none" stroke="#ee1515" stroke-width="2.2" stroke-dasharray="7.4 2.3"/>
</g>
<path d="M550.3 384.2L575.8 487" stroke="#ee1515" stroke-width="0.9" fill="none"/>
<path d="M575.8 509.6L550.4 536" stroke="#ee1515" stroke-width="0.9" fill="none"/>

<text x="487.4" y="556.0" font-size="13" text-anchor="start" fill="#000" stroke="#000" stroke-width="0.25" >Solar</text>
<text x="543.4" y="556.0" font-size="13" text-anchor="start" fill="#000" stroke="#000" stroke-width="0.25" >Electricity</text>
<text x="628.6" y="556.0" font-size="13" text-anchor="start" fill="#000" stroke="#000" stroke-width="0.25" >Chemical</text>
<path d="M517 551.6H535M599.6 551.6H616" stroke="#000" stroke-width="0.9"/><path d="M533 548.8L542.6 551.6L533 554.4zM614 548.8L623.6 551.6L614 554.4z" fill="#000"/>
<text x="502.4" y="399.8" font-size="16" text-anchor="start" fill="#000" stroke="#000" stroke-width="0.25" >(i)</text>
</svg>
</body></html>
